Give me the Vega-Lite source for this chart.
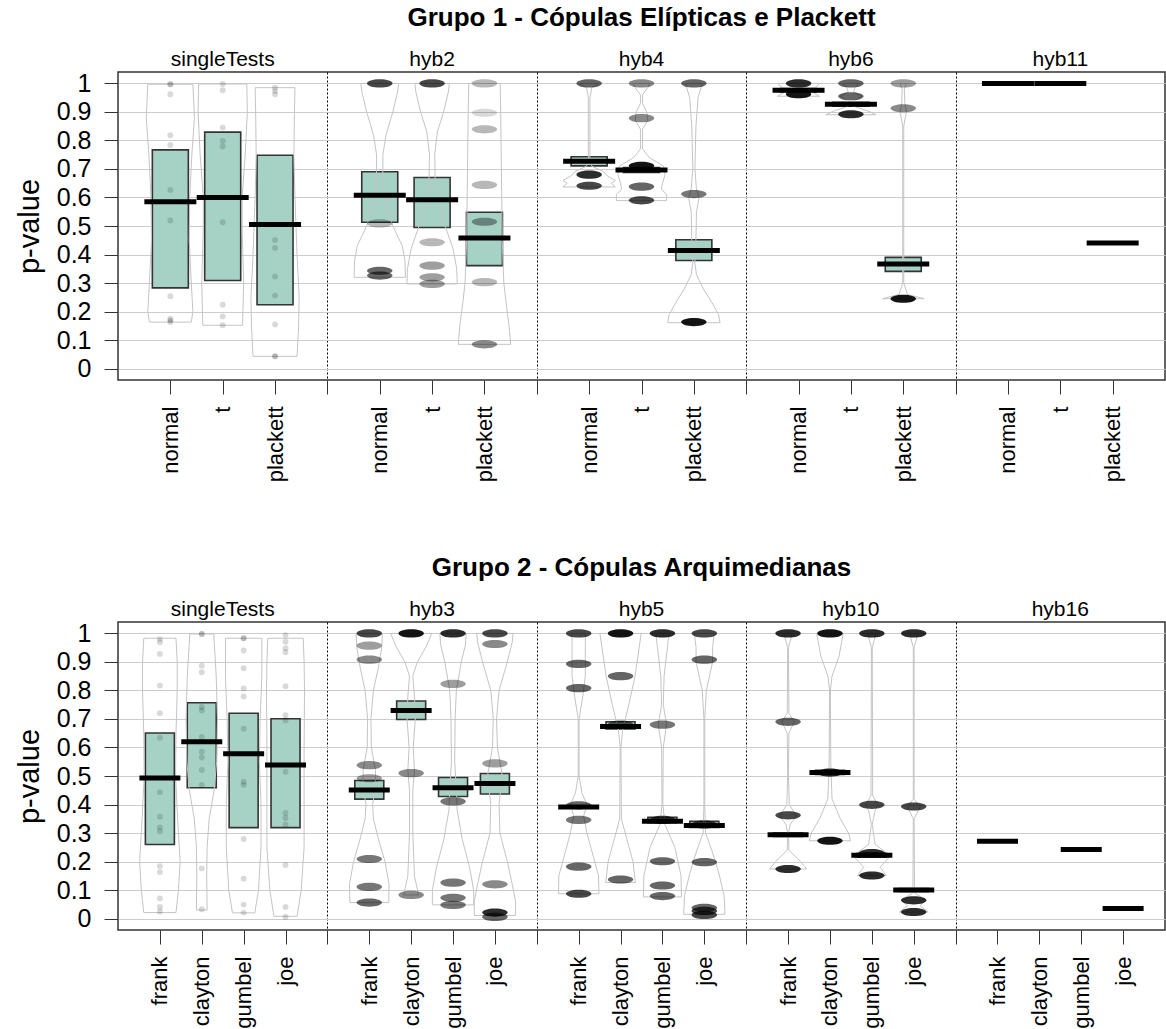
{
"$schema": "https://vega.github.io/schema/vega-lite/v6.json",
"background": "white",
"padding": {"left": 14, "top": 4, "right": 0, "bottom": 0},
"spacing": 71,
"config": {
  "font": "Liberation Sans",
  "view": {"stroke": "#333333", "strokeWidth": 1.5},
  "axis": {"labelFont": "Liberation Sans", "titleFont": "Liberation Sans", "labelColor": "black", "titleColor": "black", "tickColor": "#333333", "labelFlush": false},
  "axisY": {"labelOverlap": false, "tickCount": 11},
  "title": {"font": "Liberation Sans", "fontSize": 26, "fontWeight": "bold", "color": "black", "anchor": "middle"}
},
"datasets": {
  "b1": [
    {"k":"0|normal","lo":0.283,"hi":0.767,"m":0.585},
    {"k":"0|t","lo":0.309,"hi":0.829,"m":0.6},
    {"k":"0|plackett","lo":0.224,"hi":0.748,"m":0.505},
    {"k":"1|normal","lo":0.513,"hi":0.69,"m":0.608},
    {"k":"1|t","lo":0.495,"hi":0.67,"m":0.592},
    {"k":"1|plackett","lo":0.361,"hi":0.548,"m":0.458},
    {"k":"2|normal","lo":0.711,"hi":0.743,"m":0.727},
    {"k":"2|t","lo":0.688,"hi":0.705,"m":0.696},
    {"k":"2|plackett","lo":0.379,"hi":0.452,"m":0.414},
    {"k":"3|normal","lo":0.97,"hi":0.982,"m":0.976},
    {"k":"3|t","lo":0.92,"hi":0.934,"m":0.927},
    {"k":"3|plackett","lo":0.341,"hi":0.39,"m":0.367},
    {"k":"4|normal","lo":null,"hi":null,"m":1.0},
    {"k":"4|t","lo":null,"hi":null,"m":1.0},
    {"k":"4|plackett","lo":null,"hi":null,"m":0.44}
  ],
  "b2": [
    {"k":"0|frank","lo":0.26,"hi":0.651,"m":0.493},
    {"k":"0|clayton","lo":0.459,"hi":0.757,"m":0.62},
    {"k":"0|gumbel","lo":0.319,"hi":0.72,"m":0.578},
    {"k":"0|joe","lo":0.319,"hi":0.701,"m":0.539},
    {"k":"1|frank","lo":0.419,"hi":0.484,"m":0.451},
    {"k":"1|clayton","lo":0.698,"hi":0.763,"m":0.73},
    {"k":"1|gumbel","lo":0.428,"hi":0.495,"m":0.459},
    {"k":"1|joe","lo":0.437,"hi":0.509,"m":0.474},
    {"k":"2|frank","lo":0.387,"hi":0.395,"m":0.391},
    {"k":"2|clayton","lo":0.665,"hi":0.69,"m":0.674},
    {"k":"2|gumbel","lo":0.336,"hi":0.355,"m":0.341},
    {"k":"2|joe","lo":0.32,"hi":0.341,"m":0.326},
    {"k":"3|frank","lo":0.288,"hi":0.3,"m":0.294},
    {"k":"3|clayton","lo":0.505,"hi":0.52,"m":0.512},
    {"k":"3|gumbel","lo":0.215,"hi":0.23,"m":0.222},
    {"k":"3|joe","lo":0.095,"hi":0.105,"m":0.1},
    {"k":"4|frank","lo":null,"hi":null,"m":0.271},
    {"k":"4|gumbel","lo":null,"hi":null,"m":0.242},
    {"k":"4|joe","lo":null,"hi":null,"m":0.035}
  ],
  "v1": [
    {"k":"0|normal","v":0.163,"w":0},{"k":"0|normal","v":0.163,"w":0.4},{"k":"0|normal","v":0.2,"w":0.43},{"k":"0|normal","v":0.3,"w":0.4},{"k":"0|normal","v":0.45,"w":0.36},{"k":"0|normal","v":0.6,"w":0.37},{"k":"0|normal","v":0.75,"w":0.41},{"k":"0|normal","v":0.88,"w":0.46},{"k":"0|normal","v":0.997,"w":0.43},{"k":"0|normal","v":0.997,"w":0},
    {"k":"0|t","v":0.152,"w":0},{"k":"0|t","v":0.152,"w":0.38},{"k":"0|t","v":0.3,"w":0.4},{"k":"0|t","v":0.5,"w":0.37},{"k":"0|t","v":0.6,"w":0.37},{"k":"0|t","v":0.75,"w":0.43},{"k":"0|t","v":0.9,"w":0.47},{"k":"0|t","v":0.998,"w":0.46},{"k":"0|t","v":0.998,"w":0},
    {"k":"0|plackett","v":0.043,"w":0},{"k":"0|plackett","v":0.043,"w":0.42},{"k":"0|plackett","v":0.15,"w":0.45},{"k":"0|plackett","v":0.25,"w":0.46},{"k":"0|plackett","v":0.4,"w":0.42},{"k":"0|plackett","v":0.6,"w":0.38},{"k":"0|plackett","v":0.75,"w":0.36},{"k":"0|plackett","v":0.9,"w":0.37},{"k":"0|plackett","v":0.985,"w":0.38},{"k":"0|plackett","v":0.985,"w":0},
    {"k":"1|normal","v":0.32,"w":0},{"k":"1|normal","v":0.32,"w":0.49},{"k":"1|normal","v":0.38,"w":0.48},{"k":"1|normal","v":0.43,"w":0.43},{"k":"1|normal","v":0.5,"w":0.25},{"k":"1|normal","v":0.57,"w":0.12},{"k":"1|normal","v":0.65,"w":0.06},{"k":"1|normal","v":0.75,"w":0.06},{"k":"1|normal","v":0.82,"w":0.12},{"k":"1|normal","v":0.9,"w":0.25},{"k":"1|normal","v":0.97,"w":0.34},{"k":"1|normal","v":1.0,"w":0.36},{"k":"1|normal","v":1.0,"w":0},
    {"k":"1|t","v":0.297,"w":0},{"k":"1|t","v":0.297,"w":0.48},{"k":"1|t","v":0.35,"w":0.47},{"k":"1|t","v":0.42,"w":0.4},{"k":"1|t","v":0.5,"w":0.25},{"k":"1|t","v":0.58,"w":0.12},{"k":"1|t","v":0.65,"w":0.06},{"k":"1|t","v":0.75,"w":0.05},{"k":"1|t","v":0.83,"w":0.1},{"k":"1|t","v":0.9,"w":0.22},{"k":"1|t","v":0.97,"w":0.31},{"k":"1|t","v":1.0,"w":0.33},{"k":"1|t","v":1.0,"w":0},
    {"k":"1|plackett","v":0.085,"w":0},{"k":"1|plackett","v":0.085,"w":0.5},{"k":"1|plackett","v":0.15,"w":0.47},{"k":"1|plackett","v":0.22,"w":0.42},{"k":"1|plackett","v":0.3,"w":0.37},{"k":"1|plackett","v":0.45,"w":0.34},{"k":"1|plackett","v":0.6,"w":0.33},{"k":"1|plackett","v":0.75,"w":0.32},{"k":"1|plackett","v":0.9,"w":0.31},{"k":"1|plackett","v":1.0,"w":0.3},{"k":"1|plackett","v":1.0,"w":0},
    {"k":"2|normal","v":0.637,"w":0},{"k":"2|normal","v":0.637,"w":0.5},{"k":"2|normal","v":0.65,"w":0.42},{"k":"2|normal","v":0.66,"w":0.5},{"k":"2|normal","v":0.675,"w":0.35},{"k":"2|normal","v":0.69,"w":0.28},{"k":"2|normal","v":0.71,"w":0.05},{"k":"2|normal","v":0.73,"w":0.015},{"k":"2|normal","v":0.95,"w":0.015},{"k":"2|normal","v":0.985,"w":0.05},{"k":"2|normal","v":1.0,"w":0.2},{"k":"2|normal","v":1.0,"w":0},
    {"k":"2|t","v":0.589,"w":0},{"k":"2|t","v":0.589,"w":0.48},{"k":"2|t","v":0.61,"w":0.48},{"k":"2|t","v":0.63,"w":0.38},{"k":"2|t","v":0.65,"w":0.4},{"k":"2|t","v":0.68,"w":0.45},{"k":"2|t","v":0.71,"w":0.42},{"k":"2|t","v":0.74,"w":0.15},{"k":"2|t","v":0.77,"w":0.02},{"k":"2|t","v":0.84,"w":0.02},{"k":"2|t","v":0.87,"w":0.12},{"k":"2|t","v":0.9,"w":0.1},{"k":"2|t","v":0.93,"w":0.02},{"k":"2|t","v":0.96,"w":0.02},{"k":"2|t","v":0.985,"w":0.12},{"k":"2|t","v":1.0,"w":0.16},{"k":"2|t","v":1.0,"w":0},
    {"k":"2|plackett","v":0.161,"w":0},{"k":"2|plackett","v":0.161,"w":0.5},{"k":"2|plackett","v":0.19,"w":0.47},{"k":"2|plackett","v":0.23,"w":0.35},{"k":"2|plackett","v":0.28,"w":0.18},{"k":"2|plackett","v":0.33,"w":0.05},{"k":"2|plackett","v":0.37,"w":0.02},{"k":"2|plackett","v":0.45,"w":0.04},{"k":"2|plackett","v":0.55,"w":0.05},{"k":"2|plackett","v":0.6,"w":0.1},{"k":"2|plackett","v":0.63,"w":0.05},{"k":"2|plackett","v":0.7,"w":0.02},{"k":"2|plackett","v":0.85,"w":0.04},{"k":"2|plackett","v":0.95,"w":0.08},{"k":"2|plackett","v":1.0,"w":0.16},{"k":"2|plackett","v":1.0,"w":0},
    {"k":"3|normal","v":0.955,"w":0},{"k":"3|normal","v":0.955,"w":0.4},{"k":"3|normal","v":0.965,"w":0.3},{"k":"3|normal","v":0.975,"w":0.2},{"k":"3|normal","v":0.99,"w":0.35},{"k":"3|normal","v":1.0,"w":0.4},{"k":"3|normal","v":1.0,"w":0},
    {"k":"3|t","v":0.89,"w":0},{"k":"3|t","v":0.89,"w":0.48},{"k":"3|t","v":0.905,"w":0.3},{"k":"3|t","v":0.92,"w":0.05},{"k":"3|t","v":0.94,"w":0.08},{"k":"3|t","v":0.955,"w":0.2},{"k":"3|t","v":0.97,"w":0.05},{"k":"3|t","v":0.985,"w":0.08},{"k":"3|t","v":1.0,"w":0.15},{"k":"3|t","v":1.0,"w":0},
    {"k":"3|plackett","v":0.245,"w":0},{"k":"3|plackett","v":0.245,"w":0.4},{"k":"3|plackett","v":0.26,"w":0.08},{"k":"3|plackett","v":0.3,"w":0.01},{"k":"3|plackett","v":0.85,"w":0.01},{"k":"3|plackett","v":0.9,"w":0.06},{"k":"3|plackett","v":0.93,"w":0.03},{"k":"3|plackett","v":0.98,"w":0.02},{"k":"3|plackett","v":1.0,"w":0.06},{"k":"3|plackett","v":1.0,"w":0}
  ],
  "v2": [
    {"k":"0|frank","v":0.021,"w":0},{"k":"0|frank","v":0.021,"w":0.39},{"k":"0|frank","v":0.1,"w":0.45},{"k":"0|frank","v":0.2,"w":0.49},{"k":"0|frank","v":0.35,"w":0.43},{"k":"0|frank","v":0.5,"w":0.38},{"k":"0|frank","v":0.65,"w":0.39},{"k":"0|frank","v":0.8,"w":0.42},{"k":"0|frank","v":0.9,"w":0.42},{"k":"0|frank","v":0.983,"w":0.39},{"k":"0|frank","v":0.983,"w":0},
    {"k":"0|clayton","v":0.03,"w":0},{"k":"0|clayton","v":0.03,"w":0.13},{"k":"0|clayton","v":0.15,"w":0.12},{"k":"0|clayton","v":0.25,"w":0.13},{"k":"0|clayton","v":0.35,"w":0.18},{"k":"0|clayton","v":0.45,"w":0.3},{"k":"0|clayton","v":0.55,"w":0.36},{"k":"0|clayton","v":0.7,"w":0.38},{"k":"0|clayton","v":0.85,"w":0.35},{"k":"0|clayton","v":0.998,"w":0.29},{"k":"0|clayton","v":0.998,"w":0},
    {"k":"0|gumbel","v":0.02,"w":0},{"k":"0|gumbel","v":0.02,"w":0.27},{"k":"0|gumbel","v":0.1,"w":0.36},{"k":"0|gumbel","v":0.25,"w":0.42},{"k":"0|gumbel","v":0.4,"w":0.42},{"k":"0|gumbel","v":0.55,"w":0.38},{"k":"0|gumbel","v":0.7,"w":0.4},{"k":"0|gumbel","v":0.85,"w":0.44},{"k":"0|gumbel","v":0.983,"w":0.44},{"k":"0|gumbel","v":0.983,"w":0},
    {"k":"0|joe","v":0.008,"w":0},{"k":"0|joe","v":0.008,"w":0.28},{"k":"0|joe","v":0.1,"w":0.38},{"k":"0|joe","v":0.25,"w":0.45},{"k":"0|joe","v":0.4,"w":0.45},{"k":"0|joe","v":0.6,"w":0.45},{"k":"0|joe","v":0.8,"w":0.46},{"k":"0|joe","v":0.9,"w":0.45},{"k":"0|joe","v":0.983,"w":0.43},{"k":"0|joe","v":0.983,"w":0},
    {"k":"1|frank","v":0.056,"w":0},{"k":"1|frank","v":0.056,"w":0.47},{"k":"1|frank","v":0.12,"w":0.48},{"k":"1|frank","v":0.2,"w":0.38},{"k":"1|frank","v":0.28,"w":0.22},{"k":"1|frank","v":0.35,"w":0.1},{"k":"1|frank","v":0.4,"w":0.08},{"k":"1|frank","v":0.46,"w":0.15},{"k":"1|frank","v":0.52,"w":0.15},{"k":"1|frank","v":0.6,"w":0.05},{"k":"1|frank","v":0.7,"w":0.04},{"k":"1|frank","v":0.8,"w":0.1},{"k":"1|frank","v":0.88,"w":0.22},{"k":"1|frank","v":0.95,"w":0.3},{"k":"1|frank","v":1.0,"w":0.32},{"k":"1|frank","v":1.0,"w":0},
    {"k":"1|clayton","v":0.083,"w":0},{"k":"1|clayton","v":0.083,"w":0.18},{"k":"1|clayton","v":0.15,"w":0.08},{"k":"1|clayton","v":0.3,"w":0.04},{"k":"1|clayton","v":0.45,"w":0.04},{"k":"1|clayton","v":0.52,"w":0.08},{"k":"1|clayton","v":0.6,"w":0.05},{"k":"1|clayton","v":0.7,"w":0.1},{"k":"1|clayton","v":0.78,"w":0.08},{"k":"1|clayton","v":0.85,"w":0.04},{"k":"1|clayton","v":0.9,"w":0.15},{"k":"1|clayton","v":0.95,"w":0.35},{"k":"1|clayton","v":1.0,"w":0.5},{"k":"1|clayton","v":1.0,"w":0},
    {"k":"1|gumbel","v":0.048,"w":0},{"k":"1|gumbel","v":0.048,"w":0.5},{"k":"1|gumbel","v":0.1,"w":0.5},{"k":"1|gumbel","v":0.18,"w":0.4},{"k":"1|gumbel","v":0.28,"w":0.22},{"k":"1|gumbel","v":0.38,"w":0.1},{"k":"1|gumbel","v":0.45,"w":0.08},{"k":"1|gumbel","v":0.55,"w":0.04},{"k":"1|gumbel","v":0.7,"w":0.05},{"k":"1|gumbel","v":0.8,"w":0.08},{"k":"1|gumbel","v":0.9,"w":0.2},{"k":"1|gumbel","v":0.96,"w":0.3},{"k":"1|gumbel","v":1.0,"w":0.32},{"k":"1|gumbel","v":1.0,"w":0},
    {"k":"1|joe","v":0.011,"w":0},{"k":"1|joe","v":0.011,"w":0.5},{"k":"1|joe","v":0.06,"w":0.5},{"k":"1|joe","v":0.12,"w":0.42},{"k":"1|joe","v":0.2,"w":0.3},{"k":"1|joe","v":0.3,"w":0.12},{"k":"1|joe","v":0.4,"w":0.1},{"k":"1|joe","v":0.5,"w":0.18},{"k":"1|joe","v":0.6,"w":0.06},{"k":"1|joe","v":0.7,"w":0.04},{"k":"1|joe","v":0.8,"w":0.1},{"k":"1|joe","v":0.9,"w":0.3},{"k":"1|joe","v":0.97,"w":0.42},{"k":"1|joe","v":1.0,"w":0.44},{"k":"1|joe","v":1.0,"w":0},
    {"k":"2|frank","v":0.087,"w":0},{"k":"2|frank","v":0.087,"w":0.49},{"k":"2|frank","v":0.15,"w":0.48},{"k":"2|frank","v":0.22,"w":0.35},{"k":"2|frank","v":0.3,"w":0.2},{"k":"2|frank","v":0.36,"w":0.12},{"k":"2|frank","v":0.4,"w":0.2},{"k":"2|frank","v":0.44,"w":0.08},{"k":"2|frank","v":0.5,"w":0.01},{"k":"2|frank","v":0.7,"w":0.01},{"k":"2|frank","v":0.78,"w":0.1},{"k":"2|frank","v":0.85,"w":0.16},{"k":"2|frank","v":0.95,"w":0.16},{"k":"2|frank","v":1.0,"w":0.16},{"k":"2|frank","v":1.0,"w":0},
    {"k":"2|clayton","v":0.126,"w":0},{"k":"2|clayton","v":0.126,"w":0.36},{"k":"2|clayton","v":0.2,"w":0.3},{"k":"2|clayton","v":0.28,"w":0.15},{"k":"2|clayton","v":0.35,"w":0.02},{"k":"2|clayton","v":0.6,"w":0.01},{"k":"2|clayton","v":0.66,"w":0.05},{"k":"2|clayton","v":0.75,"w":0.2},{"k":"2|clayton","v":0.85,"w":0.35},{"k":"2|clayton","v":0.95,"w":0.45},{"k":"2|clayton","v":1.0,"w":0.5},{"k":"2|clayton","v":1.0,"w":0},
    {"k":"2|gumbel","v":0.076,"w":0},{"k":"2|gumbel","v":0.076,"w":0.46},{"k":"2|gumbel","v":0.15,"w":0.45},{"k":"2|gumbel","v":0.25,"w":0.3},{"k":"2|gumbel","v":0.33,"w":0.06},{"k":"2|gumbel","v":0.4,"w":0.01},{"k":"2|gumbel","v":0.6,"w":0.02},{"k":"2|gumbel","v":0.68,"w":0.1},{"k":"2|gumbel","v":0.75,"w":0.02},{"k":"2|gumbel","v":0.85,"w":0.04},{"k":"2|gumbel","v":0.95,"w":0.12},{"k":"2|gumbel","v":1.0,"w":0.16},{"k":"2|gumbel","v":1.0,"w":0},
    {"k":"2|joe","v":0.015,"w":0},{"k":"2|joe","v":0.015,"w":0.5},{"k":"2|joe","v":0.08,"w":0.48},{"k":"2|joe","v":0.16,"w":0.35},{"k":"2|joe","v":0.24,"w":0.18},{"k":"2|joe","v":0.3,"w":0.03},{"k":"2|joe","v":0.4,"w":0.01},{"k":"2|joe","v":0.7,"w":0.01},{"k":"2|joe","v":0.8,"w":0.05},{"k":"2|joe","v":0.9,"w":0.2},{"k":"2|joe","v":0.95,"w":0.2},{"k":"2|joe","v":1.0,"w":0.24},{"k":"2|joe","v":1.0,"w":0},
    {"k":"3|frank","v":0.174,"w":0},{"k":"3|frank","v":0.174,"w":0.45},{"k":"3|frank","v":0.2,"w":0.3},{"k":"3|frank","v":0.24,"w":0.02},{"k":"3|frank","v":0.3,"w":0.01},{"k":"3|frank","v":0.33,"w":0.05},{"k":"3|frank","v":0.36,"w":0.2},{"k":"3|frank","v":0.4,"w":0.03},{"k":"3|frank","v":0.5,"w":0.01},{"k":"3|frank","v":0.65,"w":0.02},{"k":"3|frank","v":0.69,"w":0.15},{"k":"3|frank","v":0.72,"w":0.02},{"k":"3|frank","v":0.95,"w":0.01},{"k":"3|frank","v":1.0,"w":0.1},{"k":"3|frank","v":1.0,"w":0},
    {"k":"3|clayton","v":0.273,"w":0},{"k":"3|clayton","v":0.273,"w":0.5},{"k":"3|clayton","v":0.3,"w":0.45},{"k":"3|clayton","v":0.35,"w":0.25},{"k":"3|clayton","v":0.42,"w":0.05},{"k":"3|clayton","v":0.5,"w":0.03},{"k":"3|clayton","v":0.55,"w":0.02},{"k":"3|clayton","v":0.8,"w":0.01},{"k":"3|clayton","v":0.85,"w":0.05},{"k":"3|clayton","v":0.92,"w":0.22},{"k":"3|clayton","v":1.0,"w":0.32},{"k":"3|clayton","v":1.0,"w":0},
    {"k":"3|gumbel","v":0.151,"w":0},{"k":"3|gumbel","v":0.151,"w":0.35},{"k":"3|gumbel","v":0.18,"w":0.2},{"k":"3|gumbel","v":0.22,"w":0.45},{"k":"3|gumbel","v":0.26,"w":0.08},{"k":"3|gumbel","v":0.33,"w":0.01},{"k":"3|gumbel","v":0.38,"w":0.08},{"k":"3|gumbel","v":0.4,"w":0.15},{"k":"3|gumbel","v":0.43,"w":0.02},{"k":"3|gumbel","v":0.95,"w":0.01},{"k":"3|gumbel","v":1.0,"w":0.1},{"k":"3|gumbel","v":1.0,"w":0},
    {"k":"3|joe","v":0.023,"w":0},{"k":"3|joe","v":0.023,"w":0.35},{"k":"3|joe","v":0.045,"w":0.15},{"k":"3|joe","v":0.065,"w":0.3},{"k":"3|joe","v":0.09,"w":0.02},{"k":"3|joe","v":0.35,"w":0.01},{"k":"3|joe","v":0.39,"w":0.15},{"k":"3|joe","v":0.42,"w":0.01},{"k":"3|joe","v":0.95,"w":0.01},{"k":"3|joe","v":1.0,"w":0.1},{"k":"3|joe","v":1.0,"w":0}
  ],
  "p1": [
    {"k":"0|normal","v":0.997},{"k":"0|normal","v":0.997},{"k":"0|normal","v":0.962},{"k":"0|normal","v":0.818},{"k":"0|normal","v":0.784},{"k":"0|normal","v":0.626},{"k":"0|normal","v":0.519},{"k":"0|normal","v":0.254},{"k":"0|normal","v":0.175},{"k":"0|normal","v":0.169},{"k":"0|normal","v":0.163},
    {"k":"0|t","v":0.998},{"k":"0|t","v":0.976},{"k":"0|t","v":0.845},{"k":"0|t","v":0.798},{"k":"0|t","v":0.779},{"k":"0|t","v":0.513},{"k":"0|t","v":0.224},{"k":"0|t","v":0.183},{"k":"0|t","v":0.152},
    {"k":"0|plackett","v":0.985},{"k":"0|plackett","v":0.973},{"k":"0|plackett","v":0.962},{"k":"0|plackett","v":0.451},{"k":"0|plackett","v":0.423},{"k":"0|plackett","v":0.323},{"k":"0|plackett","v":0.256},{"k":"0|plackett","v":0.155},{"k":"0|plackett","v":0.043},{"k":"0|plackett","v":0.043}
  ],
  "p2": [
    {"k":"0|frank","v":0.98},{"k":"0|frank","v":0.969},{"k":"0|frank","v":0.928},{"k":"0|frank","v":0.817},{"k":"0|frank","v":0.72},{"k":"0|frank","v":0.634},{"k":"0|frank","v":0.443},{"k":"0|frank","v":0.357},{"k":"0|frank","v":0.32},{"k":"0|frank","v":0.306},{"k":"0|frank","v":0.184},{"k":"0|frank","v":0.163},{"k":"0|frank","v":0.071},{"k":"0|frank","v":0.041},{"k":"0|frank","v":0.025},
    {"k":"0|clayton","v":0.998},{"k":"0|clayton","v":0.998},{"k":"0|clayton","v":0.887},{"k":"0|clayton","v":0.864},{"k":"0|clayton","v":0.742},{"k":"0|clayton","v":0.73},{"k":"0|clayton","v":0.637},{"k":"0|clayton","v":0.585},{"k":"0|clayton","v":0.565},{"k":"0|clayton","v":0.521},{"k":"0|clayton","v":0.469},{"k":"0|clayton","v":0.176},{"k":"0|clayton","v":0.033},
    {"k":"0|gumbel","v":0.983},{"k":"0|gumbel","v":0.983},{"k":"0|gumbel","v":0.94},{"k":"0|gumbel","v":0.878},{"k":"0|gumbel","v":0.807},{"k":"0|gumbel","v":0.779},{"k":"0|gumbel","v":0.666},{"k":"0|gumbel","v":0.48},{"k":"0|gumbel","v":0.469},{"k":"0|gumbel","v":0.279},{"k":"0|gumbel","v":0.14},{"k":"0|gumbel","v":0.049},{"k":"0|gumbel","v":0.021},
    {"k":"0|joe","v":0.994},{"k":"0|joe","v":0.971},{"k":"0|joe","v":0.948},{"k":"0|joe","v":0.934},{"k":"0|joe","v":0.815},{"k":"0|joe","v":0.713},{"k":"0|joe","v":0.695},{"k":"0|joe","v":0.515},{"k":"0|joe","v":0.37},{"k":"0|joe","v":0.353},{"k":"0|joe","v":0.33},{"k":"0|joe","v":0.188},{"k":"0|joe","v":0.041},{"k":"0|joe","v":0.006}
  ],
  "c1": [
    {"k":"1|normal","v":1.0,"n":8},{"k":"1|normal","v":0.509,"n":2},{"k":"1|normal","v":0.343,"n":6},{"k":"1|normal","v":0.326,"n":6},
    {"k":"1|t","v":1.0,"n":8},{"k":"1|t","v":0.443,"n":2},{"k":"1|t","v":0.361,"n":3},{"k":"1|t","v":0.32,"n":3},{"k":"1|t","v":0.297,"n":3},
    {"k":"1|plackett","v":1.0,"n":2},{"k":"1|plackett","v":0.897,"n":1},{"k":"1|plackett","v":0.839,"n":2},{"k":"1|plackett","v":0.644,"n":2},{"k":"1|plackett","v":0.515,"n":3},{"k":"1|plackett","v":0.303,"n":2},{"k":"1|plackett","v":0.085,"n":4},
    {"k":"2|normal","v":1.0,"n":6},{"k":"2|normal","v":0.68,"n":10},{"k":"2|normal","v":0.641,"n":8},
    {"k":"2|t","v":1.0,"n":4},{"k":"2|t","v":0.878,"n":4},{"k":"2|t","v":0.711,"n":12},{"k":"2|t","v":0.638,"n":6},{"k":"2|t","v":0.59,"n":8},
    {"k":"2|plackett","v":1.0,"n":6},{"k":"2|plackett","v":0.612,"n":5},{"k":"2|plackett","v":0.163,"n":12},
    {"k":"3|normal","v":1.0,"n":10},{"k":"3|normal","v":0.962,"n":12},
    {"k":"3|t","v":1.0,"n":6},{"k":"3|t","v":0.955,"n":6},{"k":"3|t","v":0.892,"n":10},
    {"k":"3|plackett","v":1.0,"n":3},{"k":"3|plackett","v":0.913,"n":4},{"k":"3|plackett","v":0.245,"n":12}
  ],
  "c2": [
    {"k":"1|frank","v":1.0,"n":8},{"k":"1|frank","v":0.957,"n":3},{"k":"1|frank","v":0.908,"n":4},{"k":"1|frank","v":0.538,"n":4},{"k":"1|frank","v":0.492,"n":3},{"k":"1|frank","v":0.209,"n":5},{"k":"1|frank","v":0.111,"n":5},{"k":"1|frank","v":0.056,"n":6},
    {"k":"1|clayton","v":1.0,"n":12},{"k":"1|clayton","v":0.51,"n":4},{"k":"1|clayton","v":0.083,"n":4},
    {"k":"1|gumbel","v":1.0,"n":10},{"k":"1|gumbel","v":0.823,"n":3},{"k":"1|gumbel","v":0.411,"n":5},{"k":"1|gumbel","v":0.126,"n":5},{"k":"1|gumbel","v":0.073,"n":5},{"k":"1|gumbel","v":0.048,"n":5},
    {"k":"1|joe","v":1.0,"n":8},{"k":"1|joe","v":0.963,"n":4},{"k":"1|joe","v":0.544,"n":3},{"k":"1|joe","v":0.12,"n":4},{"k":"1|joe","v":0.021,"n":10},{"k":"1|joe","v":0.006,"n":6},
    {"k":"2|frank","v":1.0,"n":8},{"k":"2|frank","v":0.893,"n":6},{"k":"2|frank","v":0.808,"n":6},{"k":"2|frank","v":0.397,"n":6},{"k":"2|frank","v":0.346,"n":5},{"k":"2|frank","v":0.182,"n":6},{"k":"2|frank","v":0.087,"n":8},
    {"k":"2|clayton","v":1.0,"n":12},{"k":"2|clayton","v":0.85,"n":6},{"k":"2|clayton","v":0.68,"n":6},{"k":"2|clayton","v":0.137,"n":6},
    {"k":"2|gumbel","v":1.0,"n":10},{"k":"2|gumbel","v":0.68,"n":5},{"k":"2|gumbel","v":0.346,"n":8},{"k":"2|gumbel","v":0.201,"n":6},{"k":"2|gumbel","v":0.116,"n":6},{"k":"2|gumbel","v":0.079,"n":6},
    {"k":"2|joe","v":1.0,"n":8},{"k":"2|joe","v":0.908,"n":6},{"k":"2|joe","v":0.33,"n":8},{"k":"2|joe","v":0.198,"n":6},{"k":"2|joe","v":0.038,"n":6},{"k":"2|joe","v":0.027,"n":8},{"k":"2|joe","v":0.013,"n":8},
    {"k":"3|frank","v":1.0,"n":10},{"k":"3|frank","v":0.69,"n":6},{"k":"3|frank","v":0.362,"n":8},{"k":"3|frank","v":0.174,"n":10},
    {"k":"3|clayton","v":1.0,"n":12},{"k":"3|clayton","v":0.512,"n":10},{"k":"3|clayton","v":0.273,"n":12},
    {"k":"3|gumbel","v":1.0,"n":10},{"k":"3|gumbel","v":0.399,"n":8},{"k":"3|gumbel","v":0.23,"n":10},{"k":"3|gumbel","v":0.151,"n":10},
    {"k":"3|joe","v":1.0,"n":10},{"k":"3|joe","v":0.393,"n":8},{"k":"3|joe","v":0.064,"n":10},{"k":"3|joe","v":0.023,"n":10}
  ],
  "h1": [{"panel":"singleTests"},{"panel":"hyb2"},{"panel":"hyb4"},{"panel":"hyb6"},{"panel":"hyb11"}],
  "h2": [{"panel":"singleTests"},{"panel":"hyb3"},{"panel":"hyb5"},{"panel":"hyb10"},{"panel":"hyb16"}]
},
"vconcat": [
  {
    "title": {"text": "Grupo 1 - Cópulas Elípticas e Plackett", "offset": 17},
    "width": 1047, "height": 308,
    "layer": [
      {
        "encoding": {
          "x": {"field": "k", "type": "nominal",
            "scale": {"type": "point", "padding": 1, "domain": ["0|normal","0|t","0|plackett","s1","1|normal","1|t","1|plackett","s2","2|normal","2|t","2|plackett","s3","3|normal","3|t","3|plackett","s4","4|normal","4|t","4|plackett"]},
            "axis": {"title": null, "labelAngle": 270, "labelFontSize": 22, "tickSize": 14, "labelPadding": 12, "domain": false,
              "labelExpr": "indexof(datum.value,'|')<0 ? '' : split(datum.value,'|')[1]",
              "grid": true, "gridColor": "black", "gridDash": [2,2], "gridWidth": 1,
              "gridOpacity": {"condition": {"test": "indexof(datum.value,'|')<0", "value": 1}, "value": 0}}}
        },
        "layer": [
          {"data": {"name": "b1"}, "mark": {"type": "bar", "width": 36, "fill": "#a6d2c6", "fillOpacity": 1, "stroke": "#333333", "strokeWidth": 1.6},
           "encoding": {"y": {"field": "lo", "type": "quantitative", "title": "p-value", "scale": {"domain": [-0.04, 1.04], "nice": false, "zero": false},
              "axis": {"values": [0,0.1,0.2,0.3,0.4,0.5,0.6,0.7,0.8,0.9,1], "tickCount": 11, "format": "~g", "labelFontSize": 25, "tickSize": 14, "labelPadding": 13, "labelOverlap": false, "grid": true, "gridColor": "#cccccc", "domain": false, "titleFontSize": 29, "titleFontWeight": "normal", "titlePadding": 12}},
             "y2": {"field": "hi"}}},
          {"data": {"name": "v1"}, "mark": {"type": "line", "stroke": "#c4c4c4", "strokeWidth": 1},
           "encoding": {"xOffset": {"field": "w", "type": "quantitative", "scale": {"domain": [0, 1], "range": [0, 52.4]}},
             "y": {"field": "v", "type": "quantitative", "title": "p-value", "scale": {"domain": [-0.04, 1.04], "nice": false, "zero": false}},
             "detail": {"field": "k"}, "order": {"value": null}}},
          {"data": {"name": "v1"}, "mark": {"type": "line", "stroke": "#c4c4c4", "strokeWidth": 1},
           "encoding": {"xOffset": {"field": "w", "type": "quantitative", "scale": {"domain": [0, 1], "range": [0, -52.4]}},
             "y": {"field": "v", "type": "quantitative", "title": "p-value", "scale": {"domain": [-0.04, 1.04], "nice": false, "zero": false}},
             "detail": {"field": "k"}, "order": {"value": null}}},
          {"data": {"name": "p1"}, "mark": {"type": "point", "filled": true, "shape": "circle", "size": 35, "color": "black", "opacity": 0.15},
           "encoding": {"y": {"field": "v", "type": "quantitative", "title": "p-value", "scale": {"domain": [-0.04, 1.04], "nice": false, "zero": false}}}},
          {"data": {"name": "c1"}, "mark": {"type": "point", "filled": true, "shape": "M-1,0A1,0.32,0,1,0,1,0A1,0.32,0,1,0,-1,0Z", "size": 650, "color": "black"},
           "encoding": {"y": {"field": "v", "type": "quantitative", "title": "p-value", "scale": {"domain": [-0.04, 1.04], "nice": false, "zero": false}},
             "opacity": {"field": "n", "type": "quantitative", "scale": {"type": "sqrt", "domain": [1, 12], "range": [0.15, 0.92]}, "legend": null}}},
          {"data": {"name": "b1"}, "mark": {"type": "tick", "size": 52, "thickness": 5, "color": "black", "opacity": 1},
           "encoding": {"y": {"field": "m", "type": "quantitative", "title": "p-value", "scale": {"domain": [-0.04, 1.04], "nice": false, "zero": false}}}}
        ],
        "resolve": {"scale": {"xOffset": "independent"}}
      },
      {"data": {"name": "h1"}, "mark": {"type": "rule", "opacity": 0},
       "encoding": {"x": {"field": "panel", "type": "nominal",
         "scale": {"type": "band", "paddingInner": 0, "paddingOuter": 0, "domain": ["singleTests","hyb2","hyb4","hyb6","hyb11"]},
         "axis": {"orient": "top", "title": null, "ticks": false, "domain": false, "grid": false, "labelAngle": 0, "labelFontSize": 21, "labelPadding": 3}}}}
    ],
    "resolve": {"scale": {"x": "independent"}}
  },
  {
    "title": {"text": "Grupo 2 - Cópulas Arquimedianas", "offset": 17},
    "width": 1047, "height": 308,
    "layer": [
      {
        "encoding": {
          "x": {"field": "k", "type": "nominal",
            "scale": {"type": "point", "padding": 1.19, "domain": ["0|frank","0|clayton","0|gumbel","0|joe","s1","1|frank","1|clayton","1|gumbel","1|joe","s2","2|frank","2|clayton","2|gumbel","2|joe","s3","3|frank","3|clayton","3|gumbel","3|joe","s4","4|frank","4|clayton","4|gumbel","4|joe"]},
            "axis": {"title": null, "labelAngle": 270, "labelFontSize": 22, "tickSize": 14, "labelPadding": 12, "domain": false,
              "labelExpr": "indexof(datum.value,'|')<0 ? '' : split(datum.value,'|')[1]",
              "grid": true, "gridColor": "black", "gridDash": [2,2], "gridWidth": 1,
              "gridOpacity": {"condition": {"test": "indexof(datum.value,'|')<0", "value": 1}, "value": 0}}}
        },
        "layer": [
          {"data": {"name": "b2"}, "mark": {"type": "bar", "width": 29, "fill": "#a6d2c6", "fillOpacity": 1, "stroke": "#333333", "strokeWidth": 1.6},
           "encoding": {"y": {"field": "lo", "type": "quantitative", "title": "p-value", "scale": {"domain": [-0.04, 1.04], "nice": false, "zero": false},
              "axis": {"values": [0,0.1,0.2,0.3,0.4,0.5,0.6,0.7,0.8,0.9,1], "tickCount": 11, "format": "~g", "labelFontSize": 25, "tickSize": 14, "labelPadding": 13, "labelOverlap": false, "grid": true, "gridColor": "#cccccc", "domain": false, "titleFontSize": 29, "titleFontWeight": "normal", "titlePadding": 12}},
             "y2": {"field": "hi"}}},
          {"data": {"name": "v2"}, "mark": {"type": "line", "stroke": "#c4c4c4", "strokeWidth": 1},
           "encoding": {"xOffset": {"field": "w", "type": "quantitative", "scale": {"domain": [0, 1], "range": [0, 41.3]}},
             "y": {"field": "v", "type": "quantitative", "title": "p-value", "scale": {"domain": [-0.04, 1.04], "nice": false, "zero": false}},
             "detail": {"field": "k"}, "order": {"value": null}}},
          {"data": {"name": "v2"}, "mark": {"type": "line", "stroke": "#c4c4c4", "strokeWidth": 1},
           "encoding": {"xOffset": {"field": "w", "type": "quantitative", "scale": {"domain": [0, 1], "range": [0, -41.3]}},
             "y": {"field": "v", "type": "quantitative", "title": "p-value", "scale": {"domain": [-0.04, 1.04], "nice": false, "zero": false}},
             "detail": {"field": "k"}, "order": {"value": null}}},
          {"data": {"name": "p2"}, "mark": {"type": "point", "filled": true, "shape": "circle", "size": 35, "color": "black", "opacity": 0.15},
           "encoding": {"y": {"field": "v", "type": "quantitative", "title": "p-value", "scale": {"domain": [-0.04, 1.04], "nice": false, "zero": false}}}},
          {"data": {"name": "c2"}, "mark": {"type": "point", "filled": true, "shape": "M-1,0A1,0.32,0,1,0,1,0A1,0.32,0,1,0,-1,0Z", "size": 650, "color": "black"},
           "encoding": {"y": {"field": "v", "type": "quantitative", "title": "p-value", "scale": {"domain": [-0.04, 1.04], "nice": false, "zero": false}},
             "opacity": {"field": "n", "type": "quantitative", "scale": {"type": "sqrt", "domain": [1, 12], "range": [0.15, 0.92]}, "legend": null}}},
          {"data": {"name": "b2"}, "mark": {"type": "tick", "size": 41, "thickness": 5, "color": "black", "opacity": 1},
           "encoding": {"y": {"field": "m", "type": "quantitative", "title": "p-value", "scale": {"domain": [-0.04, 1.04], "nice": false, "zero": false}}}}
        ],
        "resolve": {"scale": {"xOffset": "independent"}}
      },
      {"data": {"name": "h2"}, "mark": {"type": "rule", "opacity": 0},
       "encoding": {"x": {"field": "panel", "type": "nominal",
         "scale": {"type": "band", "paddingInner": 0, "paddingOuter": 0, "domain": ["singleTests","hyb3","hyb5","hyb10","hyb16"]},
         "axis": {"orient": "top", "title": null, "ticks": false, "domain": false, "grid": false, "labelAngle": 0, "labelFontSize": 21, "labelPadding": 3}}}}
    ],
    "resolve": {"scale": {"x": "independent"}}
  }
]
}
